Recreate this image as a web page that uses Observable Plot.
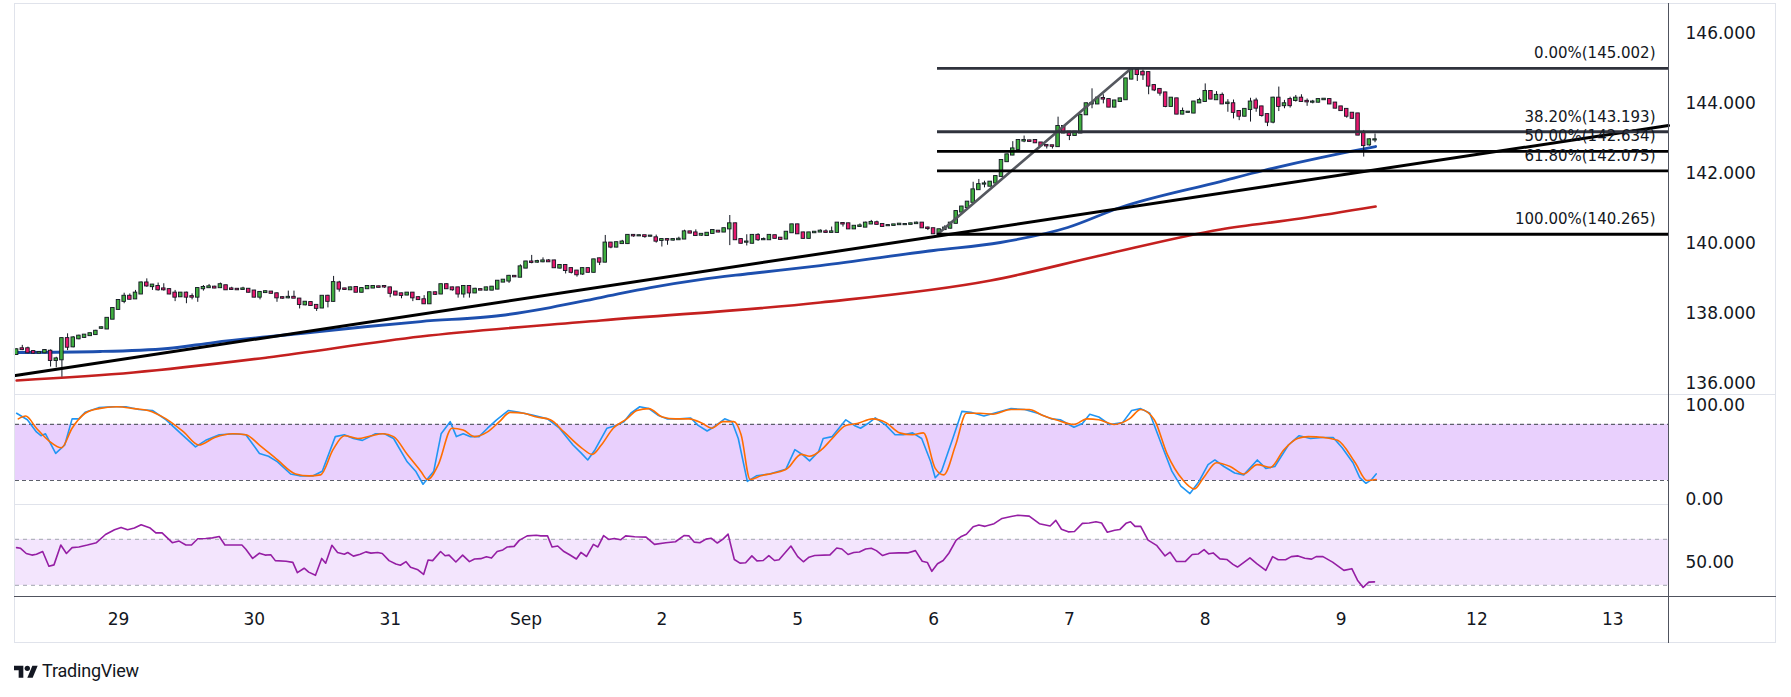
<!DOCTYPE html>
<html><head><meta charset="utf-8">
<script src="https://cdn.jsdelivr.net/npm/d3@7"></script>
<script src="https://cdn.jsdelivr.net/npm/@observablehq/plot@0.6"></script>
<style>
html,body{margin:0;padding:0;background:#fff;}
#wrap{position:relative;width:1791px;height:697px;overflow:hidden;background:#fff;}
.panel{position:absolute;left:0;width:1791px;}
.ln{position:absolute;z-index:5;}
#logo{position:absolute;left:14px;top:660px;display:flex;align-items:center;gap:4px;font-family:Roboto,"Liberation Sans",sans-serif;font-size:18px;color:#131722;letter-spacing:-0.2px;}
</style></head><body>
<div id="wrap">
  <div id="main" class="panel" style="top:0"></div>
  <div id="rsi" class="panel" style="top:504px"></div>
  <div id="stoch" class="panel" style="top:394px"></div>
  <div id="xax" class="panel" style="top:596px"></div>
  <div class="ln" style="left:14px;top:3px;width:1762px;height:640px;border:1px solid #e0e3eb;box-sizing:border-box;"></div>
  <div class="ln" style="left:14px;top:394px;width:1762px;height:1px;background:#e0e3eb;"></div>
  <div class="ln" style="left:14px;top:504px;width:1654px;height:1px;background:#e0e3eb;"></div>
  <div class="ln" style="left:14px;top:596px;width:1762px;height:1px;background:#50535e;"></div>
  <div class="ln" style="left:1668px;top:3px;width:1px;height:640px;background:#50535e;"></div>
  <div id="logo"><svg width="24" height="16" viewBox="0 0 36 24"><path d="M14 22H7V11H0V4h14v18z" fill="#131722"/><circle cx="20" cy="8" r="4" fill="#131722"/><path d="M28 22h-8l7.5-18h8z" fill="#131722"/></svg><span>TradingView</span></div>
</div>
<script>
// ---------- data ----------
const firstBar = -18; // hourly bars, index 0 = start of "29"
const openP = [
136.83,136.99,136.99,136.91,136.87,136.88,136.92,136.66,136.68,137.28,
137.05,137.28,137.32,137.37,137.40,137.58,137.56,137.84,138.12,138.35,
138.49,138.42,138.56,138.87,138.77,138.77,138.70,138.68,138.58,138.48,
138.58,138.48,138.47,138.71,138.74,138.75,138.74,138.79,138.70,138.69,
138.69,138.69,138.64,138.47,138.60,138.61,138.56,138.45,138.45,138.46,
138.41,138.25,138.31,138.23,138.16,138.49,138.35,138.87,138.70,138.68,
138.74,138.61,138.71,138.73,138.76,138.77,138.73,138.61,138.56,138.53,
138.58,138.45,138.39,138.28,138.59,138.56,138.82,138.73,138.73,138.56,
138.77,138.59,138.68,138.67,138.67,138.70,138.90,138.93,139.06,139.04,
139.30,139.47,139.47,139.48,139.50,139.50,139.30,139.37,139.28,139.21,
139.13,139.28,139.18,139.56,139.47,140.01,139.90,140.00,140.00,140.23,
140.22,140.22,140.21,140.16,140.09,140.11,140.10,140.11,140.13,140.33,
140.30,140.24,140.23,140.29,140.35,140.33,140.42,140.56,140.11,140.04,
140.01,140.23,140.11,140.11,140.22,140.15,140.13,140.31,140.53,140.30,
140.15,140.31,140.33,140.33,140.32,140.32,140.57,140.56,140.42,140.49,
140.47,140.56,140.59,140.54,140.51,140.52,140.54,140.54,140.55,140.57,
140.58,140.44,140.42,140.28,140.40,140.44,140.58,140.90,141.03,141.18,
141.54,141.70,141.64,141.73,141.92,142.34,142.53,142.69,142.93,142.93,
142.94,142.87,142.80,142.79,142.77,143.34,143.18,143.09,143.16,143.68,
143.99,143.99,144.14,144.11,143.90,144.06,144.11,144.70,144.94,144.89,
144.88,144.51,144.40,144.30,143.92,144.13,143.70,143.75,143.73,144.02,
144.06,144.34,144.11,144.23,144.00,143.99,143.77,143.64,143.83,144.07,
143.90,143.68,143.47,144.15,143.94,144.11,144.09,144.15,144.06,144.04,
144.04,144.11,144.11,144.01,143.90,143.83,143.72,143.70,143.16,142.82,
142.96];
const highP = [
136.99,137.09,137.04,136.93,136.90,136.97,136.96,136.75,137.30,137.42,
137.34,137.38,137.40,137.44,137.52,137.61,137.88,138.16,138.39,138.58,
138.56,138.66,138.90,138.99,138.83,138.87,138.85,138.70,138.66,138.60,
138.61,138.56,138.73,138.80,138.83,138.78,138.87,138.81,138.75,138.71,
138.75,138.71,138.66,138.62,138.64,138.63,138.59,138.47,138.64,138.64,
138.43,138.34,138.33,138.25,138.50,138.52,139.06,138.92,138.72,138.75,
138.76,138.73,138.79,138.80,138.78,138.79,138.75,138.62,138.58,138.60,
138.60,138.47,138.51,138.61,138.61,138.84,138.85,138.75,138.75,138.80,
138.80,138.72,138.70,138.75,138.77,138.94,138.97,139.09,139.08,139.39,
139.49,139.66,139.52,139.59,139.54,139.52,139.40,139.40,139.30,139.23,
139.30,139.30,139.55,139.58,140.23,140.03,140.04,140.09,140.25,140.25,
140.24,140.23,140.23,140.24,140.12,140.13,140.12,140.18,140.38,140.35,
140.39,140.27,140.30,140.38,140.37,140.44,140.80,140.58,140.14,140.25,
140.25,140.28,140.16,140.25,140.24,140.17,140.34,140.55,140.55,140.32,
140.32,140.33,140.39,140.39,140.47,140.60,140.59,140.58,140.50,140.56,
140.61,140.66,140.64,140.55,140.53,140.54,140.56,140.56,140.58,140.61,
140.60,140.47,140.43,140.41,140.51,140.60,140.93,141.06,141.20,141.75,
141.83,141.78,141.77,141.94,142.39,142.56,142.91,142.97,143.07,142.95,
142.96,142.88,142.81,142.80,143.61,143.36,143.20,143.20,143.69,144.01,
144.42,144.17,144.25,144.13,144.09,144.15,144.72,145.00,145.002,144.96,
144.90,144.54,144.42,144.32,144.17,144.15,143.87,143.77,144.06,144.15,
144.56,144.36,144.34,144.30,144.11,144.10,143.79,143.85,144.15,144.15,
143.92,143.70,144.18,144.47,144.09,144.18,144.23,144.25,144.13,144.09,
144.13,144.13,144.13,144.03,143.92,143.85,143.74,143.72,143.23,142.99,
143.13];
const lowP = [
136.80,136.94,136.85,136.84,136.86,136.85,136.47,136.45,136.18,136.94,
137.02,137.25,137.30,137.35,137.38,137.56,137.55,137.83,138.10,138.28,
138.39,138.41,138.55,138.75,138.66,138.64,138.64,138.54,138.34,138.46,
138.28,138.39,138.32,138.64,138.72,138.71,138.72,138.66,138.66,138.66,
138.68,138.59,138.45,138.39,138.58,138.56,138.32,138.41,138.42,138.43,
138.13,138.22,138.21,138.06,138.14,138.16,138.33,138.61,138.66,138.66,
138.60,138.59,138.70,138.72,138.74,138.72,138.45,138.51,138.42,138.51,
138.34,138.38,138.26,138.27,138.52,138.54,138.69,138.64,138.44,138.44,
138.44,138.57,138.66,138.65,138.65,138.68,138.89,138.86,139.03,139.03,
139.28,139.42,139.44,139.45,139.46,139.29,139.27,139.13,139.13,139.04,
139.09,139.16,139.16,139.37,139.45,139.85,139.88,139.99,139.97,140.18,
140.20,140.15,140.19,140.01,139.90,139.95,140.07,140.10,140.12,140.28,
140.21,140.21,140.22,140.28,140.31,140.32,139.94,140.09,139.98,139.93,
139.99,140.06,140.09,140.10,140.13,140.10,140.12,140.30,140.26,140.13,
140.13,140.29,140.32,140.30,140.31,140.30,140.47,140.40,140.40,140.47,
140.46,140.55,140.53,140.48,140.49,140.51,140.53,140.53,140.54,140.56,
140.44,140.37,140.265,140.27,140.37,140.42,140.56,140.88,141.01,141.16,
141.52,141.59,141.62,141.71,141.90,142.32,142.51,142.67,142.88,142.90,
142.86,142.78,142.70,142.70,142.75,143.14,142.94,143.07,143.14,143.66,
143.85,143.97,143.99,143.88,143.88,144.04,144.09,144.68,144.63,144.66,
144.25,144.34,144.21,143.88,143.90,143.68,143.68,143.73,143.71,144.00,
144.04,144.11,144.09,143.97,143.75,143.56,143.51,143.62,143.47,143.75,
143.61,143.34,143.42,143.77,143.85,143.87,144.04,144.04,143.92,143.99,
144.02,144.10,143.97,143.85,143.78,143.58,143.56,143.08,142.47,142.78,
142.88];
const closeP = [
136.96,136.97,136.88,136.87,136.88,136.94,136.66,136.70,137.28,137.04,
137.30,137.35,137.38,137.42,137.49,137.59,137.86,138.14,138.37,138.49,
138.41,138.58,138.87,138.79,138.81,138.68,138.68,138.56,138.47,138.58,
138.47,138.47,138.71,138.74,138.76,138.73,138.82,138.68,138.69,138.68,
138.70,138.61,138.47,138.60,138.62,138.58,138.45,138.44,138.46,138.44,
138.26,138.32,138.23,138.15,138.49,138.35,138.88,138.70,138.69,138.73,
138.61,138.71,138.77,138.77,138.75,138.76,138.58,138.53,138.52,138.58,
138.45,138.40,138.28,138.59,138.55,138.82,138.71,138.68,138.56,138.77,
138.59,138.69,138.67,138.73,138.75,138.92,138.95,139.06,139.05,139.33,
139.47,139.46,139.48,139.50,139.48,139.31,139.37,139.23,139.18,139.11,
139.28,139.18,139.53,139.47,140.01,139.90,140.02,140.04,140.23,140.22,
140.22,140.20,140.21,140.07,140.11,140.10,140.11,140.12,140.33,140.30,
140.23,140.26,140.29,140.37,140.33,140.42,140.56,140.11,140.01,140.04,
140.23,140.11,140.11,140.23,140.15,140.12,140.32,140.53,140.28,140.15,
140.30,140.32,140.35,140.32,140.33,140.58,140.56,140.42,140.49,140.50,
140.58,140.60,140.55,140.49,140.51,140.53,140.55,140.54,140.56,140.58,
140.45,140.43,140.28,140.39,140.44,140.58,140.91,141.04,141.18,141.53,
141.68,141.70,141.75,141.91,142.37,142.53,142.70,142.94,142.94,142.92,
142.88,142.80,142.79,142.78,143.34,143.16,143.09,143.18,143.66,143.99,
144.00,144.15,144.13,143.90,144.07,144.13,144.70,144.94,144.83,144.82,
144.50,144.39,144.30,143.92,144.15,143.70,143.77,143.75,144.04,144.08,
144.34,144.13,144.23,143.99,144.01,143.75,143.64,143.83,144.04,143.87,
143.66,143.47,144.15,143.92,143.99,143.94,144.15,144.06,144.05,144.04,
144.11,144.12,143.99,143.87,143.80,143.64,143.58,143.10,142.80,142.96,
142.96];

// moving averages [bar, value]
const maBlue = [[-18,136.886],[-3.2,136.914],[8.7,137.0],[16.8,137.171],[32.2,137.429],[44,137.629],[53.4,137.771],[67.5,137.943],[76.3,138.171],[85.2,138.457],[94,138.743],[102.8,138.971],[111.7,139.143],[124,139.371],[144,139.8],[155.8,140.029],[167.7,140.457],[177,141.029],[194.7,141.771],[202.3,142.086],[212.4,142.457],[217.7,142.629],[222.1,142.771]];
const maRed = [[-18,136.086],[2.65,136.314],[26.3,136.743],[53.4,137.343],[85.2,137.8],[124,138.314],[154.1,138.943],[173.5,139.657],[194.7,140.4],[208.8,140.714],[222.1,141.057]];

// drawings
const trendBars = [-18.2, 273.85];
const trendPrices = [136.23, 143.37];
const fibLevels = [0, 0.382, 0.5, 0.618, 1];
const fibPrices = [145.002, 143.193, 142.634, 142.075, 140.265];
const fibColors = ["#2f323c", "#2f323c", "#000000", "#000000", "#000000"];
const fibAnchorBars = [144.7, 178.9]; // low anchor, high anchor

// stochastic [bar, value]
const stochK = [[-18,92],[-16.1,85],[-14.5,72],[-13.7,68],[-12.9,70],[-11.1,49],[-9.5,58],[-8.2,86],[-7,86],[-5.9,93],[-3.5,98],[-1.1,99],[1.3,99],[3.6,96],[6,95],[8.4,85],[10.7,72],[13.6,56],[15.4,63],[17.8,69],[20.5,70],[22.5,69],[24.9,49],[26.5,46],[28.1,40],[30.4,27],[32,25],[34.4,25],[36,30],[38.3,67],[39.9,69],[41.5,65],[43.1,63],[45.4,70],[47,70],[48.6,65],[51,40],[52.5,30],[53.8,16],[55.7,30],[57,70],[58.6,83],[59.7,67],[60.9,70],[62.1,67],[63.7,67],[65.2,76],[66.8,85],[68.9,95],[70.8,93],[73.1,90],[75.8,86],[77.9,76],[80.3,58],[81.8,49],[82.9,42],[84.2,53],[86.3,76],[87.9,79],[89.3,83],[90.5,92],[92.1,99],[93.7,97],[95.3,90],[96.9,86],[99.2,86],[101.1,87],[102.4,79],[104,73],[105.1,77],[107.1,86],[108.4,83],[109.5,65],[111.1,19],[112.7,25],[115,27],[117.9,32],[119.5,53],[121,47],[122.1,41],[123.7,51],[124.5,65],[126.1,67],[128.5,85],[130,79],[131.1,76],[132.4,81],[133.7,87],[135.6,79],[137.2,69],[138.7,69],[140.3,71],[141.9,65],[143.5,40],[144.3,23],[145.4,30],[147.4,65],[149,94],[150.6,93],[152.9,89],[155.3,93],[157.7,97],[160.1,96],[162.4,92],[164.8,86],[166.4,85],[168.8,77],[170.3,81],[171.6,91],[173.2,88],[175.1,80],[177.4,82],[179,95],[180.6,97],[182.2,92],[184.5,55],[186.1,30],[187.7,14],[189.3,6],[190.9,19],[192.5,37],[193.7,42],[195.3,35],[197.2,28],[198.8,26],[201.2,42],[202.7,33],[204.3,35],[206.7,58],[208.6,68],[210.6,65],[212.7,66],[214.6,66],[216.2,55],[218.1,39],[219.3,23],[220.4,17],[221.4,21],[222.2,27]];
const stochD = [[-17.7,86],[-16.4,89],[-14.5,76],[-12.2,62],[-10.1,55],[-8.2,76],[-5.9,92],[-3.5,97],[-0.3,99],[2.8,97],[5.2,95],[8.4,86],[11.5,72],[14.2,58],[17,66],[20.2,70],[22.5,69],[24.9,58],[28.1,42],[31.3,27],[33.7,25],[35.7,26],[37.9,53],[39.9,68],[42.3,65],[44.7,68],[46.7,70],[48.6,67],[51,48],[53.4,30],[54.6,21],[56.5,37],[58.9,76],[60.9,74],[62.9,67],[65.2,72],[67.3,83],[69.2,93],[71.6,92],[73.9,88],[76.3,85],[78.7,72],[81.8,55],[83.7,48],[85.3,58],[87.4,76],[89.8,86],[91.6,95],[93.7,97],[96.1,88],[98.4,86],[100.8,86],[103.2,81],[104.8,76],[106.8,83],[108.7,83],[110,69],[111.6,21],[113.5,25],[115.8,28],[118.2,33],[120.6,48],[122.1,46],[124.2,53],[126.1,65],[128.5,79],[130.5,81],[133.2,86],[135.6,82],[138,71],[140.3,69],[142.2,71],[144.3,33],[145.8,26],[147.9,58],[149.8,92],[152.2,92],[154.5,91],[157.7,96],[160.9,96],[163.2,90],[165.6,85],[168.8,80],[171.1,86],[173.2,85],[175.9,80],[178.6,86],[180.6,96],[183,85],[185.3,48],[188,21],[190.1,11],[191.7,23],[194,39],[196.4,35],[198.8,27],[201.2,37],[203.5,34],[205.9,53],[208.3,65],[210.2,67],[213,66],[215.4,63],[218.5,39],[220.6,20],[222.2,21]];
const stochBand = [20, 80];
const stochTicks = [0, 100];

// RSI [bar, value]
const rsi = [[-18,62.9],[-17.3,62.3],[-16.3,57.8],[-15.3,56.4],[-14.5,57.2],[-13.4,59.5],[-12.3,46.7],[-11.4,47.9],[-10.2,65.2],[-9.2,57.8],[-8.2,62.9],[-7,63.5],[-5.5,65.2],[-3.9,67.2],[-2.3,74.3],[-0.7,78.5],[0.45,80.5],[1.6,78.5],[2.8,79.9],[4,82.8],[5.6,79.9],[6.6,75.7],[7.7,75.7],[9.5,67.2],[10.7,68.6],[11.9,65.2],[12.9,65.2],[14,70.6],[15.4,70.9],[16.6,71.4],[17.8,72.6],[18.8,65.2],[20.2,65.2],[21.8,65.2],[22.5,61.5],[23.7,53.5],[24.9,58.1],[25.9,56.4],[26.9,56.7],[27.7,51.6],[29.6,51],[30.8,50.1],[31.6,41.1],[32.8,45],[33.6,41.6],[34.8,38.8],[35.9,53.5],[36.6,49.3],[37.7,64.9],[38.7,58.7],[39.9,57.2],[40.5,58.7],[41.5,55.5],[42.7,57.2],[43.7,59.2],[44.6,58.1],[45.8,58.7],[46.6,57.8],[47.8,51.6],[49,48.7],[49.8,47.6],[50.8,50.7],[51.6,45.9],[52.9,43.6],[53.9,39.6],[54.7,52.1],[55.5,51.6],[56.9,59.5],[57.7,55.8],[58.4,56.4],[59.6,50.4],[60.8,56.4],[62,50.7],[62.9,53],[64,53.3],[65,55],[65.9,53.8],[66.9,59.5],[67.9,60.9],[68.7,63.5],[69.9,64],[70.8,69.2],[72.2,73.1],[73.8,73.7],[74.6,73.1],[75.8,73.1],[76.6,63.5],[77.6,64.3],[78.7,59.5],[79.7,56.7],[80.9,53],[81.7,58.7],[82.7,55.2],[83.9,65.7],[84.7,63.5],[85.7,73.4],[86.6,70],[87.6,70.9],[88.7,69.7],[89.6,73.1],[91.2,72.3],[93.2,72],[94.7,65.7],[96.7,67.2],[98.4,68],[99.9,73.4],[100.8,73.1],[101.7,67.7],[102.7,67.1],[103.8,70.3],[104.7,71.1],[105.8,66.9],[106.8,70.3],[107.7,74.6],[108.8,52.6],[109.8,49.4],[110.8,49.7],[111.9,55.7],[112.8,51.4],[113.9,51.7],[114.9,56],[115.9,51.7],[116.7,52.3],[118.8,64.3],[120,55.1],[121,50.6],[122,54.6],[123,56],[125.7,56.6],[126.9,62.6],[127.8,61.7],[128.9,56.9],[129.9,58.6],[130.9,59.1],[132,61.7],[133,62.3],[133.9,60.3],[135,56],[136.2,58],[137.8,58.3],[139.4,58.3],[140.8,60.3],[142,51.1],[142.9,50],[143.7,42.3],[144.7,48.9],[145.7,51.7],[146.7,58],[148,69.4],[148.8,72.3],[149.8,74.6],[151,81.1],[152,82.6],[153.1,81.4],[154.7,83.7],[156.1,88.3],[157.7,90],[158.9,91.1],[160.9,90.3],[162.7,83.7],[164.6,81.7],[165.6,86.6],[166.6,78.9],[167.8,76.6],[168.9,76.9],[170.3,84],[171.5,84.3],[172.7,85.4],[173.7,84.3],[174.7,76.3],[176,78],[176.9,78.6],[178,84],[178.8,85.4],[179.6,81.4],[180.6,81.4],[181.9,69.4],[183.4,64.9],[184.9,55.7],[185.8,58.9],[186.9,50.9],[188.5,50.9],[189.7,56.9],[190.8,57.4],[191.8,61.1],[192.6,57.4],[193.4,58.3],[194.6,53.1],[195.8,52.6],[196.9,48.3],[197.7,46],[199.9,54],[201.1,48.9],[202.7,43.1],[203.9,55.1],[204.9,52.3],[206.2,52.3],[207.2,55.1],[208.4,55.7],[209.6,53.7],[210.8,52.9],[211.6,55.1],[212.8,55.1],[214.5,50.3],[216.5,43.1],[217.9,44.6],[218.9,34.6],[219.9,28.3],[220.9,32.9],[221.9,33.1]];
const rsiBand = [30, 70];
const rsiTicks = [50];

// axes
const priceTicks = [136, 138, 140, 142, 144, 146];
const xLabels = ["29","30","31","Sep","2","5","6","7","8","9","12","13"];
const xLabelBars = [0, 24, 48, 72, 96, 120, 144, 168, 192, 216, 240, 264];

// ---------- build ----------
const xDomain = [-18.2, 273.85];
const W = 1791, ML = 15, MR = 123;
const FONT = '"DejaVu Sans", sans-serif';
const TXT = "#131722";
const baseStyle = {fontFamily: FONT, fontSize: "17px", color: TXT, background: "transparent", overflow: "hidden"};
const xScale = {domain: xDomain, axis: null};
const axisOpts = {anchor: "right", tickSize: 0, tickPadding: 17, fill: TXT, fontSize: 17, label: null};

const candles = openP.map((o, i) => ({b: firstBar + i, o, h: highP[i], l: lowP[i], c: closeP[i]}));
const blueData = maBlue.map(([b, v]) => ({b, v}));
const redData = maRed.map(([b, v]) => ({b, v}));
const trendData = trendBars.map((b, i) => ({b, v: trendPrices[i]}));
const fibData = fibLevels.map((lv, i) => ({
  price: fibPrices[i], color: fibColors[i],
  label: `${(lv * 100).toFixed(2)}%(${fibPrices[i].toFixed(3)})`
}));
const fibDiag = [{b: fibAnchorBars[0], v: fibPrices[4]}, {b: fibAnchorBars[1], v: fibPrices[0]}];

const mainPlot = Plot.plot({
  width: W, height: 394, marginTop: 4, marginBottom: 0, marginLeft: ML, marginRight: MR,
  style: baseStyle,
  x: xScale,
  y: {domain: [135.686, 146.829], label: null},
  marks: [
    Plot.axisY(priceTicks, {...axisOpts, tickFormat: d3.format(".3f")}),
    Plot.line(redData, {x: "b", y: "v", stroke: "#c4201f", strokeWidth: 2.6, curve: "monotone-x"}),
    Plot.line(blueData, {x: "b", y: "v", stroke: "#1d4fae", strokeWidth: 2.8, curve: "monotone-x"}),
    Plot.ruleX(candles, {x: "b", y1: "l", y2: "h", stroke: "#131722", strokeWidth: 1}),
    Plot.rect(candles, {x1: d => d.b - 0.31, x2: d => d.b + 0.31, y1: "o", y2: "c",
      fill: d => d.c >= d.o ? "#3fae3f" : "#e6186d", stroke: "#131722", strokeWidth: 0.9,
      insetTop: -0.6, insetBottom: -0.6}),
    Plot.line(trendData, {x: "b", y: "v", stroke: "#000", strokeWidth: 3}),
    Plot.line(fibDiag, {x: "b", y: "v", stroke: "#55585f", strokeWidth: 2.6}),
    Plot.ruleY(fibData, {y: "price", x1: fibAnchorBars[0], x2: xDomain[1], stroke: "color", strokeWidth: 2.8}),
    Plot.text(fibData, {x: xDomain[1], y: "price", text: "label", textAnchor: "end", dx: -13, dy: -15, fontSize: 15, fill: TXT})
  ]
});
document.getElementById("main").appendChild(mainPlot);

const kData = stochK.map(([b, v]) => ({b, v}));
const dData = stochD.map(([b, v]) => ({b, v}));
const stochPlot = Plot.plot({
  width: W, height: 110, marginTop: 0, marginBottom: 0, marginLeft: ML, marginRight: MR,
  style: {...baseStyle, overflow: "visible"},
  x: xScale,
  y: {domain: [-5.7, 112.1], label: null},
  marks: [
    Plot.rect([stochBand], {x1: xDomain[0], x2: xDomain[1], y1: d => d[0], y2: d => d[1], fill: "#e9d0fd"}),
    Plot.ruleY(stochBand, {stroke: "#5d606b", strokeDasharray: "4,3", strokeWidth: 1.2}),
    Plot.axisY(stochTicks, {...axisOpts, tickFormat: d3.format(".2f")}),
    Plot.line(kData, {x: "b", y: "v", stroke: "#2196f3", strokeWidth: 1.6}),
    Plot.line(dData, {x: "b", y: "v", stroke: "#ff6d00", strokeWidth: 1.6, curve: "monotone-x"})
  ]
});
document.getElementById("stoch").appendChild(stochPlot);

const rsiData = rsi.map(([b, v]) => ({b, v}));
const rsiPlot = Plot.plot({
  width: W, height: 92, marginTop: 0, marginBottom: 0, marginLeft: ML, marginRight: MR,
  style: baseStyle,
  x: xScale,
  y: {domain: [20.4, 100.4], label: null},
  marks: [
    Plot.rect([rsiBand], {x1: xDomain[0], x2: xDomain[1], y1: d => d[0], y2: d => d[1], fill: "#f3e5fd"}),
    Plot.ruleY(rsiBand, {stroke: "#b2b5be", strokeDasharray: "4,4", strokeWidth: 1.2}),
    Plot.axisY(rsiTicks, {...axisOpts, tickFormat: d3.format(".2f")}),
    Plot.line(rsiData, {x: "b", y: "v", stroke: "#951ea4", strokeWidth: 1.6})
  ]
});
document.getElementById("rsi").appendChild(rsiPlot);

const xTickData = xLabelBars.map((b, i) => ({b, label: xLabels[i]}));
const xPlot = Plot.plot({
  width: W, height: 47, marginTop: 0, marginBottom: 0, marginLeft: ML, marginRight: MR,
  style: baseStyle,
  x: xScale,
  marks: [
    Plot.text(xTickData, {x: "b", text: "label", frameAnchor: "middle", fontSize: 17, fill: TXT})
  ]
});
document.getElementById("xax").appendChild(xPlot);
</script>
</body></html>
